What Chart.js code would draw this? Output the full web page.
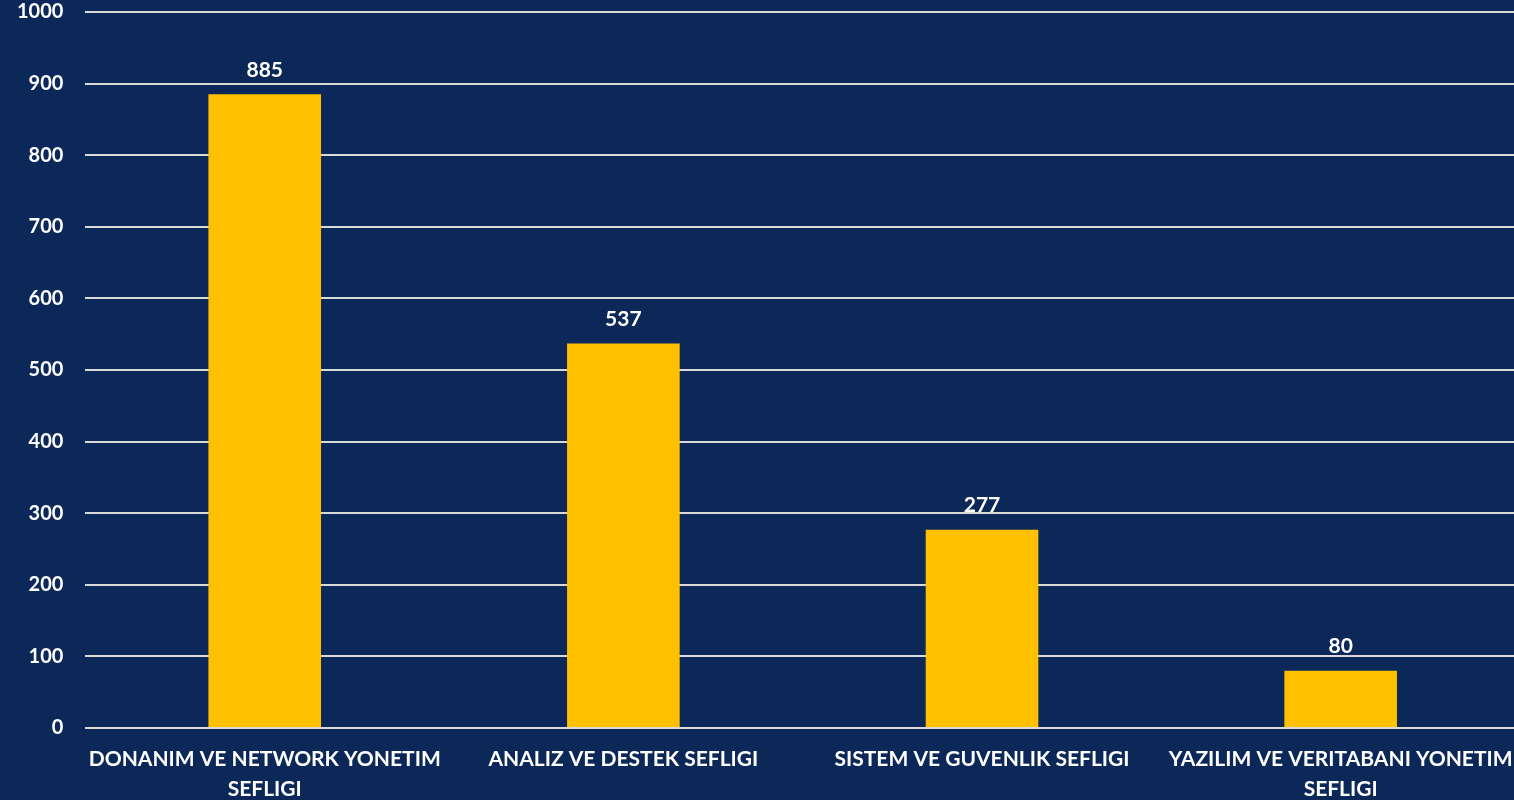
<!DOCTYPE html>
<html>
<head>
<meta charset="utf-8">
<script src="https://cdn.jsdelivr.net/npm/chart.js@4"></script>
<style>
  html, body { margin: 0; padding: 0; background: #0B2858; overflow: hidden; }
  #wrap { width: 1514px; height: 800px; overflow: hidden; }
</style>
</head>
<body>
<div id="wrap"><canvas id="chart" width="1520" height="800"></canvas></div>
<script>
// ------------------- Data -------------------
const categories = [
  ["DONANIM VE NETWORK YONETIM", "SEFLIGI"],
  "ANALIZ VE DESTEK SEFLIGI",
  "SISTEM VE GUVENLIK SEFLIGI",
  ["YAZILIM VE VERITABANI YONETIM", "SEFLIGI"]
];
const counts = [885, 537, 277, 80];
const yTicks = [0, 100, 200, 300, 400, 500, 600, 700, 800, 900, 1000];

const FONT = "Lato, 'Open Sans', sans-serif";

// value labels above each bar
const valueLabels = {
  id: "valueLabels",
  afterDatasetsDraw(chart) {
    const ctx = chart.ctx;
    const meta = chart.getDatasetMeta(0);
    ctx.save();
    ctx.fillStyle = "#FFFFFF";
    ctx.font = "bold 21px " + FONT;
    ctx.textAlign = "center";
    ctx.textBaseline = "bottom";
    meta.data.forEach((bar, i) => {
      ctx.fillText(counts[i], bar.x, bar.y - 14);
    });
    ctx.restore();
  }
};

const ctx = document.getElementById("chart").getContext("2d");
new Chart(ctx, {
  type: "bar",
  data: {
    labels: categories,
    datasets: [{
      data: counts,
      backgroundColor: "#FFC000",
      borderWidth: 0,
      categoryPercentage: 0.314,
      barPercentage: 1
    }]
  },
  options: {
    responsive: false,
    animation: false,
    layout: { padding: { top: 12, left: -5, right: 0, bottom: 0 } },
    plugins: { legend: { display: false }, tooltip: { enabled: false } },
    scales: {
      x: {
        grid: { display: false },
        border: { display: false },
        afterFit: s => { s.height = 72; s.paddingLeft = 0; s.paddingRight = 0; },
        ticks: {
          color: "#FFFFFF",
          font: { family: FONT, size: 21, weight: "bold", lineHeight: 1.4 },
          padding: 9,
          maxRotation: 0,
          autoSkip: false
        }
      },
      y: {
        min: 0,
        max: 1000,
        afterBuildTicks: axis => { axis.ticks = yTicks.map(v => ({ value: v })); },
        afterFit: s => { s.paddingTop = 0; s.paddingBottom = 0; },
        grid: { color: "#D9D9D9", lineWidth: 2, drawTicks: false },
        border: { display: false },
        ticks: {
          color: "#FFFFFF",
          font: { family: FONT, size: 20, weight: "bold" },
          padding: 22,
          callback: v => String(v)
        }
      }
    }
  },
  plugins: [valueLabels]
});
</script>
</body>
</html>
